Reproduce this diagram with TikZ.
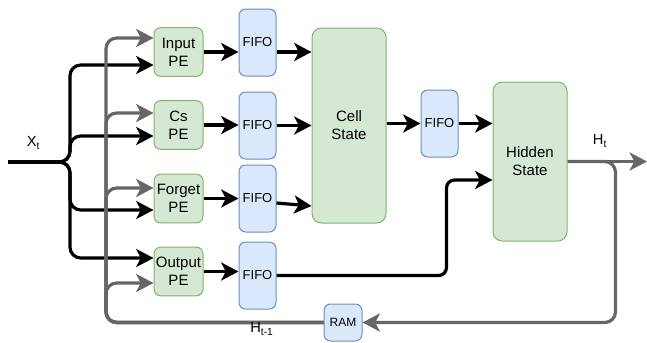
\documentclass[tikz,border=0pt]{standalone}
\usepackage{fontspec}
\setmainfont{Liberation Sans}
\usetikzlibrary{arrows.meta,calc}
\definecolor{pefill}{HTML}{D5E8D4}
\definecolor{pedraw}{HTML}{82B366}
\definecolor{fifofill}{HTML}{DAE8FC}
\definecolor{fifodraw}{HTML}{6C8EBF}
\definecolor{loopgray}{HTML}{666666}
\tikzset{
  pebox/.style={draw=pedraw, fill=pefill, rounded corners=5pt, line width=0.75pt,
    minimum width=36.75pt, minimum height=36.5pt, inner sep=0pt, align=center,
    font=\fontsize{11.25}{13.5}\selectfont},
  statebox/.style={pebox, minimum width=55.5pt, rounded corners=7pt},
  fifobox/.style={draw=fifodraw, fill=fifofill, rounded corners=5pt, line width=0.75pt,
    minimum width=27.75pt, minimum height=50.25pt, inner sep=0pt,
    font=\fontsize{9.75}{12}\selectfont},
  dataflow/.style={line width=2.4pt, -{Stealth[length=13pt,width=13.5pt,inset=3.5pt]}},
  loopflow/.style={dataflow, draw=loopgray},
  sig/.style={font=\fontsize{11}{13}\selectfont}
}
\begin{document}
\begin{tikzpicture}[x=0.75pt, y=-0.75pt]
    \useasboundingbox (0,0) rectangle (647,343);
    % processing elements
    \node[pebox] (inpe) at (178.5,52) {Input\\PE};
    \node[pebox] (cspe) at (178.5,125) {Cs\\PE};
    \node[pebox] (fgpe) at (178.5,198.5) {Forget\\PE};
    \node[pebox] (outpe) at (178.5,271.5) {Output\\PE};
    % buffers
    \node[fifobox] (fifoa) at (257.5,42.5) {FIFO};
    \node[fifobox] (fifob) at (257.5,125.5) {FIFO};
    \node[fifobox] (fifoc) at (257.5,198.5) {FIFO};
    \node[fifobox] (fifod) at (257.5,275.5) {FIFO};
    \node[statebox, minimum height=146.25pt] (cell) at (349,125.5) {Cell\\State};
    \node[fifobox] (fifom) at (439.5,123.5) {FIFO};
    \node[statebox, minimum height=119.25pt] (hidden) at (530,161.5) {Hidden\\State};
    \node[fifobox, minimum width=28.5pt, minimum height=27.75pt, font=\fontsize{9}{11}\selectfont] (ram) at (343,322.5) {RAM};
    % input x_t
    \coordinate (xin) at (8,162);
    \coordinate (xbus) at (70,162);
    \foreach \pe/\dy in {inpe/13, cspe/11, fgpe/11.5, outpe/-13.5}
      \draw[dataflow, rounded corners=8pt] (xin) -- (xbus) |- ($(\pe.west)+(0,\dy)$);
    % PE -> FIFO -> cell state
    \draw[dataflow] (inpe.east) -- (fifoa.west |- inpe.east);
    \draw[dataflow] (fifoa.east |- inpe.east) -- (cell.west |- inpe.east);
    \draw[dataflow] (cspe.east) -- (fifob.west |- cspe.east);
    \draw[dataflow] (fifob.east) -- (cell.west |- fifob.east);
    \draw[dataflow] (fgpe.east) -- (fifoc.west |- fgpe.east);
    \draw[dataflow] ($(fifoc.east)+(0,4.5)$) -- ($(cell.west |- fifoc.east)+(0,7.5)$);
    \draw[dataflow] (outpe.east) -- (fifod.west |- outpe.east);
    \draw[dataflow, rounded corners=6pt] (fifod.east) -- ++(170,0) |- ($(hidden.west)+(0,18.5)$);
    \draw[dataflow] (cell.east |- fifom.east) -- (fifom.west);
    \draw[dataflow] (fifom.east) -- (hidden.west |- fifom.east);
    % h_t feedback through RAM
    \coordinate (hout) at (647,161.5);
    \coordinate (gbus) at (106,322.5);
    \draw[loopflow] (hidden.east) -- (hout);
    \draw[loopflow, rounded corners=8pt] (hidden.east) -| ($(ram.east)+(253,0)$) -- (ram.east);
    \foreach \pe/\dy in {inpe/-14, cspe/-12, fgpe/-10.5, outpe/11.5}
      \draw[loopflow, rounded corners=8pt] (ram.west) -- (gbus) |- ($(\pe.west)+(0,\dy)$);
    % labels
    \node[sig] (xlbl) at (33.5,143) {X\textsubscript{t}};
    \node[sig] (hlbl) at (600,141) {H\textsubscript{t}};
    \node[sig] (hprev) at (262,329) {H\textsubscript{t-1}};
  \end{tikzpicture}
\end{document}
